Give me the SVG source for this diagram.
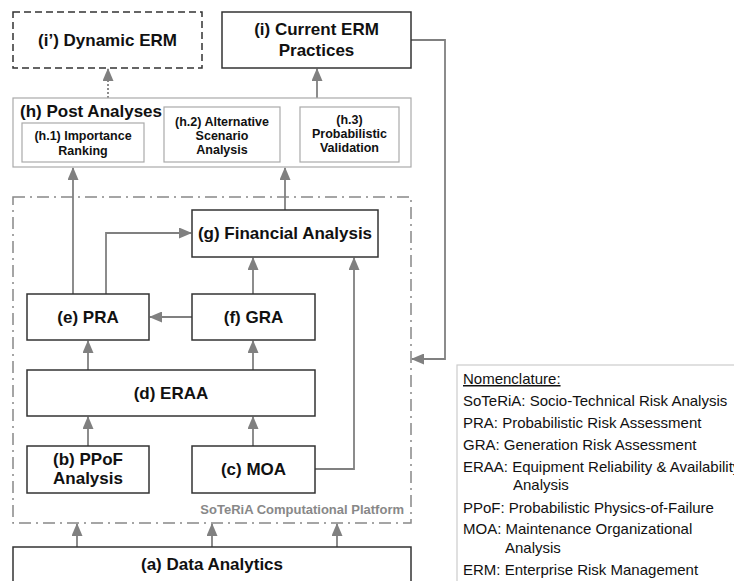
<svg xmlns="http://www.w3.org/2000/svg" width="734" height="581" viewBox="0 0 734 581">
<style>
text{font-family:"Liberation Sans",Arial,sans-serif;}
.t{font-weight:bold;font-size:17px;fill:#111;text-anchor:middle;}
.ts{font-weight:bold;font-size:12.5px;fill:#111;text-anchor:middle;}
.box{fill:#fff;stroke:#333;stroke-width:1.5;}
.sub{fill:#fff;stroke:#aaa;stroke-width:1.2;}
.c{fill:none;stroke:#808080;stroke-width:1.8;}
.n{font-size:15px;fill:#111;}
</style>
<defs>
<marker id="ah" markerUnits="userSpaceOnUse" markerWidth="13" markerHeight="11" viewBox="0 0 13 11" refX="12" refY="5.5" orient="auto">
<path d="M0,0 L13,5.5 L0,11 z" fill="#808080"/>
</marker>
</defs>
<rect width="734" height="581" fill="#fff"/>

<g id="platform">
<rect x="13" y="197" width="398" height="326" fill="none" stroke="#888" stroke-width="1.5" stroke-dasharray="12,5,2,5"/>
<text x="404" y="514" style="font-weight:bold;font-size:13px;fill:#888;text-anchor:end;">SoTeRiA Computational Platform</text>
</g>

<g id="connectors">
<line class="c" x1="108" y1="98" x2="108" y2="69" stroke-dasharray="2,2" marker-end="url(#ah)"/>
<line class="c" x1="317" y1="98" x2="317" y2="69" marker-end="url(#ah)"/>
<polyline class="c" points="411,40 445,40 445,359 412,359" marker-end="url(#ah)"/>
<line class="c" x1="73" y1="294" x2="73" y2="168" marker-end="url(#ah)"/>
<line class="c" x1="285" y1="210" x2="285" y2="168" marker-end="url(#ah)"/>
<polyline class="c" points="106,294 106,233 191,233" marker-end="url(#ah)"/>
<line class="c" x1="253" y1="294" x2="253" y2="258" marker-end="url(#ah)"/>
<line class="c" x1="192" y1="317" x2="150" y2="317" marker-end="url(#ah)"/>
<polyline class="c" points="315,469 354,469 354,258" marker-end="url(#ah)"/>
<line class="c" x1="88" y1="370" x2="88" y2="341" marker-end="url(#ah)"/>
<line class="c" x1="253" y1="370" x2="253" y2="341" marker-end="url(#ah)"/>
<line class="c" x1="88" y1="446" x2="88" y2="417" marker-end="url(#ah)"/>
<line class="c" x1="253" y1="446" x2="253" y2="417" marker-end="url(#ah)"/>
<line class="c" x1="77" y1="547" x2="77" y2="524" marker-end="url(#ah)"/>
<line class="c" x1="212" y1="547" x2="212" y2="524" marker-end="url(#ah)"/>
<line class="c" x1="337" y1="547" x2="337" y2="524" marker-end="url(#ah)"/>
</g>

<g id="node-i-prime">
<rect x="13" y="12" width="189" height="56" fill="#fff" stroke="#333" stroke-width="1.5" stroke-dasharray="7,4"/>
<text class="t" x="107.5" y="46">(i’) Dynamic ERM</text>
</g>
<g id="node-i">
<rect class="box" x="222" y="12" width="189" height="56"/>
<text class="t" x="316.5" y="35">(i) Current ERM</text>
<text class="t" x="316.5" y="56">Practices</text>
</g>

<g id="node-h">
<rect class="sub" x="13" y="98" width="398" height="69"/>
<text x="20" y="117" style="font-weight:bold;font-size:17px;fill:#111;">(h) Post Analyses</text>
</g>
<g id="node-h1">
<rect class="sub" x="22" y="123" width="122" height="39"/>
<text class="ts" x="83" y="140">(h.1) Importance</text>
<text class="ts" x="83" y="155">Ranking</text>
</g>
<g id="node-h2">
<rect class="sub" x="164" y="107" width="116" height="55"/>
<text class="ts" x="222" y="126">(h.2) Alternative</text>
<text class="ts" x="222" y="140">Scenario</text>
<text class="ts" x="222" y="154">Analysis</text>
</g>
<g id="node-h3">
<rect class="sub" x="300" y="107" width="99" height="55"/>
<text class="ts" x="349.5" y="124">(h.3)</text>
<text class="ts" x="349.5" y="138">Probabilistic</text>
<text class="ts" x="349.5" y="152">Validation</text>
</g>

<g id="node-g">
<rect class="box" x="192" y="210" width="186" height="47"/>
<text class="t" x="285" y="239">(g) Financial Analysis</text>
</g>
<g id="node-e">
<rect class="box" x="27" y="294" width="122" height="46"/>
<text class="t" x="88" y="323">(e) PRA</text>
</g>
<g id="node-f">
<rect class="box" x="192" y="294" width="123" height="46"/>
<text class="t" x="253.5" y="323">(f) GRA</text>
</g>
<g id="node-d">
<rect class="box" x="27" y="370" width="288" height="46"/>
<text class="t" x="171" y="399">(d) ERAA</text>
</g>
<g id="node-b">
<rect class="box" x="27" y="446" width="122" height="47"/>
<text class="t" x="88" y="465">(b) PPoF</text>
<text class="t" x="88" y="484">Analysis</text>
</g>
<g id="node-c">
<rect class="box" x="192" y="446" width="123" height="47"/>
<text class="t" x="253.5" y="475">(c) MOA</text>
</g>
<g id="node-a">
<rect class="box" x="13" y="547" width="398" height="45"/>
<text class="t" x="212" y="570">(a) Data Analytics</text>
</g>

<g id="nomenclature">
<rect x="457" y="365" width="300" height="240" fill="#fff" stroke="#ccc" stroke-width="1.2"/>
<text class="n" x="463" y="384" text-decoration="underline">Nomenclature:</text>
<text class="n" x="463" y="406">SoTeRiA: Socio-Technical Risk Analysis</text>
<text class="n" x="463" y="428">PRA: Probabilistic Risk Assessment</text>
<text class="n" x="463" y="450">GRA: Generation Risk Assessment</text>
<text class="n" x="463" y="472">ERAA: Equipment Reliability &amp; Availability</text>
<text class="n" x="513" y="490">Analysis</text>
<text class="n" x="463" y="513">PPoF: Probabilistic Physics-of-Failure</text>
<text class="n" x="463" y="534">MOA: Maintenance Organizational</text>
<text class="n" x="505" y="553">Analysis</text>
<text class="n" x="463" y="575">ERM: Enterprise Risk Management</text>
</g>
</svg>
